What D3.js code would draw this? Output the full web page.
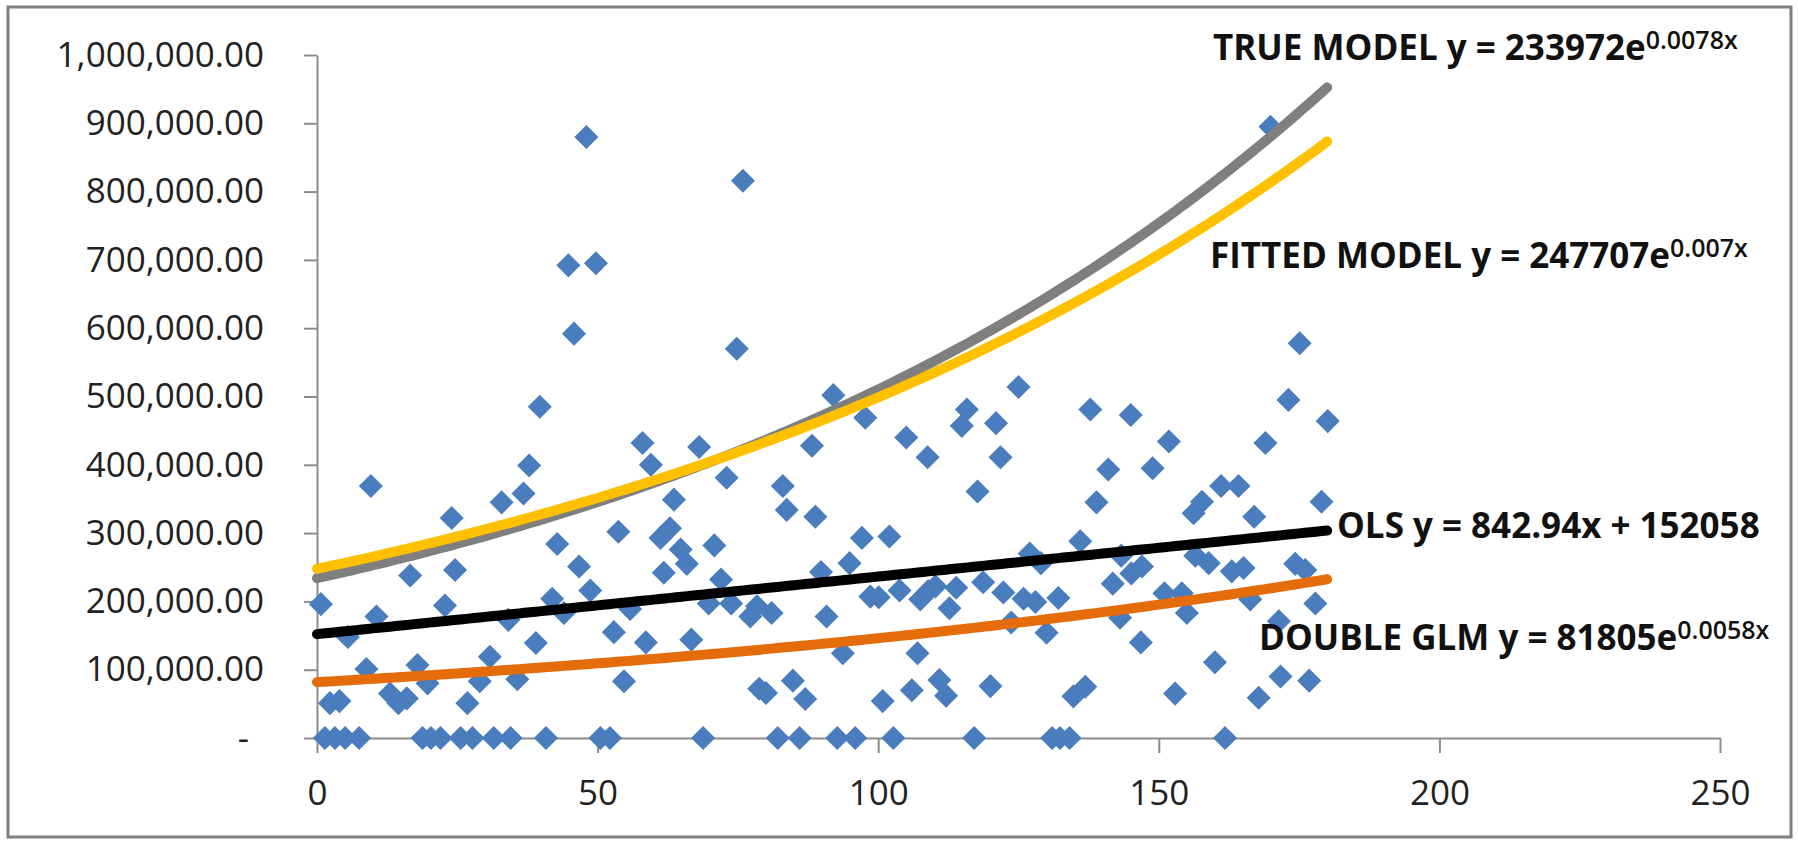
<!DOCTYPE html>
<html>
<head>
<meta charset="utf-8">
<script src="https://cdn.jsdelivr.net/npm/d3@7"></script>
<style>
body { margin: 0; background: #fff; }
</style>
</head>
<body>
<div id="chartDiv"></div>
<script>
// scatter points (x, claim value)
var pointX = [48.0, 44.8, 49.7, 45.8, 39.7, 58.0, 59.5, 9.6, 37.8, 36.8,
    32.9, 24.0, 53.7, 42.8, 46.7, 16.6, 24.6, 48.7, 0.7, 22.8,
    41.9, 44.0, 55.8, 10.6, 5.5, 34.1, 39.0, 52.9, 58.6, 8.8,
    17.9, 19.7, 30.8, 29.0, 35.7, 54.7, 2.3, 4.0, 13.0, 14.5,
    16.0, 26.8,
    75.9, 74.8, 92, 97.7, 115.8, 114.9, 121, 68.1, 88.2, 105,
    108.8, 121.8, 73.0, 83, 117.7, 63.6, 83.7, 88.8, 62.9, 61.2,
    64.8, 65.9, 70.8, 61.8, 72.0, 69.8, 73.8, 77.2, 78.4, 81.0,
    90.8, 89.8, 94.9, 97.1, 102, 98.6, 100.1, 103.8, 107.5, 108.9,
    110.2, 112.7, 113.9, 118.7, 122.3, 66.7, 93.7, 107, 78.8, 80,
    84.8, 87, 100.8, 106, 110.9, 112.1, 120,
    169.9, 175.1, 125, 137.8, 145, 173.1, 180.1, 151.8, 169, 141,
    148.9, 161.1, 164.2, 138.9, 157.7, 156.2, 179, 167, 136, 127,
    129, 143.3, 145.1, 147, 156.5, 158.9, 163.0, 165.1, 174.3, 176.1,
    125.9, 128, 132.1, 141.8, 151, 154.1, 143.1, 155, 166.3, 171.4,
    177.9, 123.7, 130, 146.8, 160, 171.7, 176.8, 167.8, 152.9, 134.8,
    136.9,
    1.4, 3.2, 5.0, 7.5, 18.8, 20.3, 22.0, 25.6, 27.7, 31.5,
    34.5, 40.8, 50.5, 52.2, 68.8, 82.1, 86.0, 92.7, 95.9, 102.7,
    117.1, 131, 132.4, 134.1, 161.8];
var pointY = [880000, 692000, 695000, 592000, 485000, 432000, 400000, 369000, 399000, 358000,
    345000, 322000, 302000, 284000, 251000, 238000, 246000, 216000, 196000, 194000,
    204000, 183000, 189000, 178000, 148000, 173000, 139000, 155000, 140000, 101000,
    107000, 80000, 119000, 83000, 86000, 83000, 51000, 54000, 65000, 51000,
    58000, 51000,
    816000, 570000, 502000, 469000, 481000, 457000, 461000, 426000, 428000, 440000,
    411000, 411000, 381000, 369000, 361000, 349000, 334000, 324000, 307000, 293000,
    276000, 255000, 282000, 242000, 232000, 197000, 197000, 178000, 193000, 183000,
    178000, 243000, 256000, 293000, 295000, 207000, 206000, 216000, 203000, 215000,
    222000, 190000, 220000, 228000, 213000, 144000, 124000, 124000, 72000, 66000,
    84000, 57000, 54000, 70000, 85000, 62000, 76000,
    895000, 578000, 514000, 481000, 473000, 495000, 464000, 434000, 432000, 393000,
    395000, 369000, 369000, 345000, 346000, 329000, 346000, 324000, 288000, 270000,
    256000, 267000, 241000, 251000, 267000, 256000, 244000, 249000, 255000, 246000,
    204000, 199000, 205000, 226000, 212000, 212000, 176000, 183000, 203000, 171000,
    197000, 169000, 154000, 140000, 111000, 90000, 84000, 59000, 65000, 61000,
    75000,
    0, 0, 0, 0, 0, 0, 0, 0, 0, 0,
    0, 0, 0, 0, 0, 0, 0, 0, 0, 0,
    0, 0, 0, 0, 0];

var xTicks = [0, 50, 100, 150, 200, 250];
var yTicks = [0, 100000, 200000, 300000, 400000, 500000, 600000, 700000, 800000, 900000, 1000000];

// trend lines, as printed on the chart
var trendNames = ["TRUE MODEL", "FITTED MODEL", "OLS", "DOUBLE GLM"];
var trendKind = ["exp", "exp", "linear", "exp"];
var trendA = [233972, 247707, 842.94, 81805];
var trendB = [0.0078, 0.007, 152058, 0.0058];
var trendText = ["TRUE MODEL y = 233972e", "FITTED MODEL y = 247707e", "OLS y = 842.94x + 152058", "DOUBLE GLM y = 81805e"];
var trendSup = ["0.0078x", "0.007x", "", "0.0058x"];
var trendColors = ["#7f7f7f", "#ffc000", "#000000", "#e46c0a"];
var trendXRange = [0, 180];

var width = 1798, height = 841;

var svg = d3.select("#chartDiv")
    .append("svg")
    .attr("width", width)
    .attr("height", height);

svg.append("rect")
    .attr("x", 8)
    .attr("y", 7)
    .attr("width", 1783)
    .attr("height", 830)
    .style("fill", "white")
    .style("stroke", "#7f7f7f")
    .style("stroke-width", 3);

var x = d3.scaleLinear().domain([0, 250]).range([317, 1720]);
var y = d3.scaleLinear().domain([0, 1000000]).range([738, 55]);

var numFormat = d3.format(",.2f");

var yAxis = svg.append("g")
    .attr("class", "y axis")
    .attr("transform", "translate(" + x(0) + ",0)")
    .call(d3.axisLeft(y)
        .tickValues(yTicks)
        .tickSize(13)
        .tickSizeOuter(0)
        .tickPadding(40)
        .tickFormat(function (d) {
            return d === 0 ? "-" : numFormat(d);
        }));

var xAxis = svg.append("g")
    .attr("class", "x axis")
    .attr("transform", "translate(0," + y(0) + ")")
    .call(d3.axisBottom(x)
        .tickValues(xTicks)
        .tickSize(15)
        .tickSizeOuter(0)
        .tickPadding(27)
        .tickFormat(d3.format("d")));

svg.selectAll(".axis path, .axis line")
    .style("stroke", "#8c8c8c")
    .style("stroke-width", 2);

svg.selectAll(".axis text")
    .style("font-family", "'Open Sans', sans-serif")
    .style("font-size", "35px")
    .style("fill", "#222");

yAxis.selectAll(".tick text")
    .filter(function (d) { return d === 0; })
    .attr("dx", -15);

// points
var points = pointX.map(function (v, i) { return {x: v, y: pointY[i]}; });

svg.append("g")
    .attr("class", "points")
    .selectAll("path")
    .data(points)
    .enter().append("path")
    .attr("d", d3.symbol().type(d3.symbolSquare).size(290))
    .attr("transform", function (d) {
        return "translate(" + x(d.x) + "," + y(d.y) + ") rotate(45)";
    })
    .style("fill", "#4a7dbd");

// trend lines
var line = d3.line()
    .x(function (d) { return x(d[0]); })
    .y(function (d) { return y(d[1]); });

var steps = d3.range(trendXRange[0], trendXRange[1] + 1, 1);

trendNames.forEach(function (name, i) {
    var pts = steps.map(function (t) {
        var v = trendKind[i] === "exp" ? trendA[i] * Math.exp(trendB[i] * t) : trendA[i] * t + trendB[i];
        return [t, v];
    });
    svg.append("path")
        .datum(pts)
        .attr("class", "trend")
        .attr("d", line)
        .style("fill", "none")
        .style("stroke", trendColors[i])
        .style("stroke-width", 10)
        .style("stroke-linecap", "round")
        .style("stroke-linejoin", "round");
});

// equation labels
var labelPos = [[1213, 60], [1210, 268], [1337, 538], [1259, 650]];

trendNames.forEach(function (name, i) {
    var t = svg.append("text")
        .attr("x", labelPos[i][0])
        .attr("y", labelPos[i][1])
        .style("font-family", "'Open Sans', sans-serif")
        .style("font-weight", "bold")
        .style("font-size", "35px")
        .style("fill", "#111");
    t.append("tspan").text(trendText[i]);
    if (trendSup[i] !== "") {
        t.append("tspan")
            .attr("dy", -11)
            .style("font-size", "25px")
            .style("font-weight", "600")
            .text(trendSup[i]);
    }
});
</script>
</body>
</html>
